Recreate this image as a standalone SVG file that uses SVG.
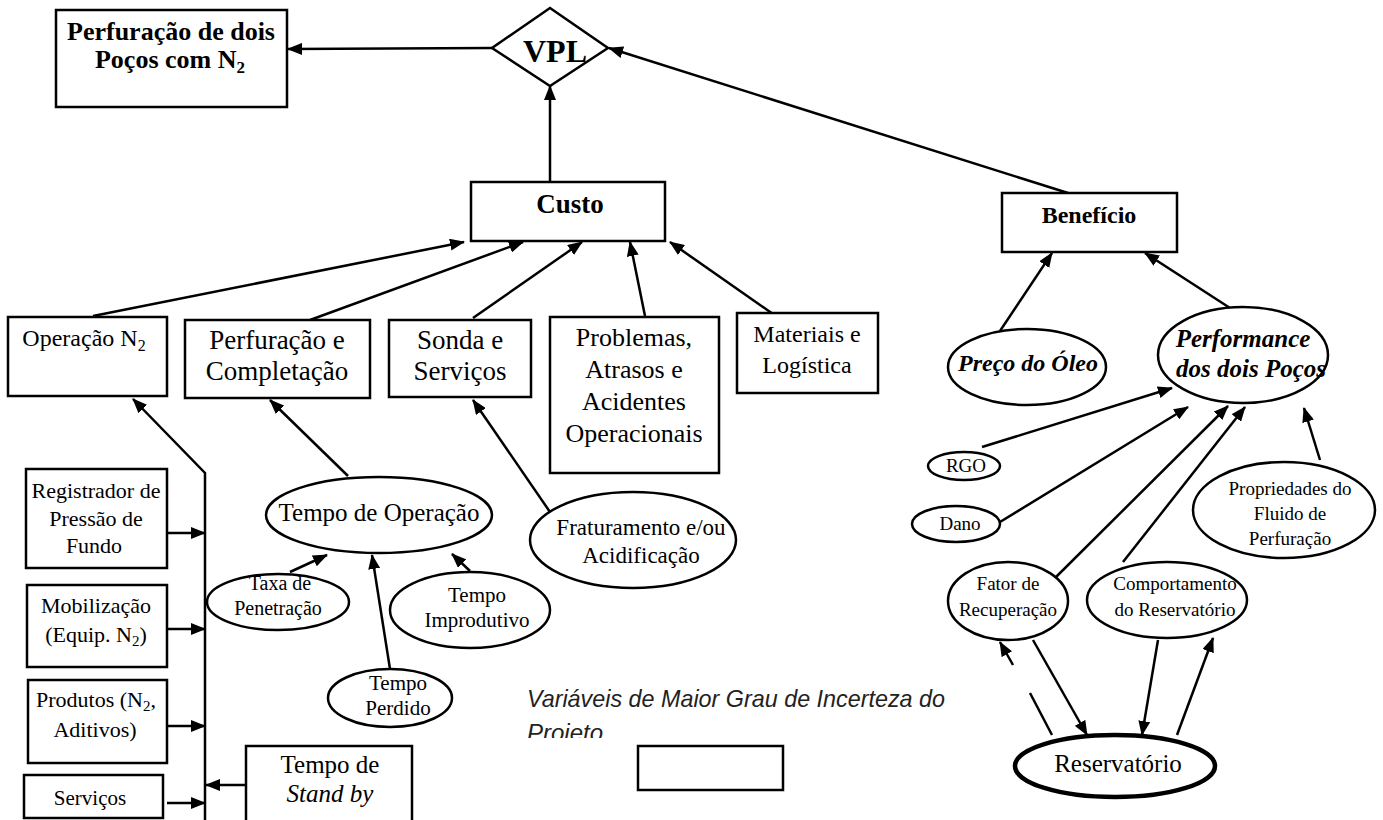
<svg xmlns="http://www.w3.org/2000/svg" width="1383" height="820" viewBox="0 0 1383 820">
<style>
.b{fill:#fff;stroke:#000;stroke-width:2.5}
.c{fill:none;stroke:#000;stroke-width:2.5}
.t{font-family:"Liberation Serif","Times New Roman",serif;fill:#000;text-anchor:middle}
.bd{font-weight:bold}
.it{font-style:italic}
</style>
<defs>
<marker id="a" markerUnits="userSpaceOnUse" markerWidth="15" markerHeight="12" refX="14" refY="6" orient="auto">
<path d="M0,0 L15,6 L0,12 z" fill="#000"/>
</marker>
<clipPath id="clipLeg"><rect x="500" y="680" width="500" height="58"/></clipPath>
</defs>
<rect width="1383" height="820" fill="#fff"/>

<g id="connectors">
<line class="c" x1="492" y1="48" x2="288" y2="49" marker-end="url(#a)"/>
<line class="c" x1="550" y1="182" x2="550" y2="86" marker-end="url(#a)"/>
<line class="c" x1="1068" y1="193" x2="609" y2="48" marker-end="url(#a)"/>
<line class="c" x1="93" y1="316" x2="464" y2="242" marker-end="url(#a)"/>
<line class="c" x1="310" y1="320" x2="523" y2="242" marker-end="url(#a)"/>
<line class="c" x1="473" y1="318" x2="582" y2="242" marker-end="url(#a)"/>
<line class="c" x1="645" y1="316" x2="630" y2="242" marker-end="url(#a)"/>
<line class="c" x1="773" y1="314" x2="670" y2="242" marker-end="url(#a)"/>
<line class="c" x1="1000" y1="331" x2="1052" y2="253" marker-end="url(#a)"/>
<line class="c" x1="1230" y1="308" x2="1145" y2="253" marker-end="url(#a)"/>
<line class="c" x1="982" y1="447" x2="1172" y2="388" marker-end="url(#a)"/>
<line class="c" x1="1000" y1="522" x2="1188" y2="407" marker-end="url(#a)"/>
<line class="c" x1="1055" y1="578" x2="1228" y2="406" marker-end="url(#a)"/>
<line class="c" x1="1123" y1="562" x2="1245" y2="407" marker-end="url(#a)"/>
<line class="c" x1="1320" y1="460" x2="1304" y2="408" marker-end="url(#a)"/>
<line class="c" x1="1033" y1="640" x2="1087" y2="735" marker-end="url(#a)"/>
<line class="c" x1="1052" y1="735" x2="1030" y2="693"/>
<line class="c" x1="1013" y1="665" x2="1000" y2="642" marker-end="url(#a)"/>
<line class="c" x1="1158" y1="640" x2="1142" y2="735" marker-end="url(#a)"/>
<line class="c" x1="1177" y1="735" x2="1213" y2="638" marker-end="url(#a)"/>
<line class="c" x1="348" y1="476" x2="270" y2="400" marker-end="url(#a)"/>
<line class="c" x1="290" y1="572" x2="327" y2="555" marker-end="url(#a)"/>
<line class="c" x1="390" y1="669" x2="372" y2="555" marker-end="url(#a)"/>
<line class="c" x1="470" y1="571" x2="452" y2="554" marker-end="url(#a)"/>
<line class="c" x1="550" y1="512" x2="473" y2="400" marker-end="url(#a)"/>
<polyline class="c" points="205,820 205,473 133,399" marker-end="url(#a)"/>
<line class="c" x1="167" y1="533" x2="205" y2="533" marker-end="url(#a)"/>
<line class="c" x1="167" y1="629" x2="205" y2="629" marker-end="url(#a)"/>
<line class="c" x1="167" y1="726" x2="205" y2="726" marker-end="url(#a)"/>
<line class="c" x1="167" y1="803" x2="205" y2="803" marker-end="url(#a)"/>
<line class="c" x1="246" y1="785" x2="206" y2="785" marker-end="url(#a)"/>
</g>

<g id="perfuracao-dois-pocos">
<rect class="b" x="56" y="10" width="231" height="97"/>
<text class="t bd" x="171" y="40" font-size="26">Perfuração de dois</text>
<text class="t bd" x="170" y="68" font-size="26">Poços com N<tspan font-size="17" dy="5">2</tspan></text>
</g>

<g id="vpl">
<polygon class="b" points="550,8 608,48 550,86 492,48"/>
<text class="t bd" x="555" y="62" font-size="32">VPL</text>
</g>

<g id="custo">
<rect class="b" x="471" y="182" width="194" height="59"/>
<text class="t bd" x="570" y="213" font-size="27">Custo</text>
</g>

<g id="beneficio">
<rect class="b" x="1002" y="193" width="175" height="59"/>
<text class="t bd" x="1089" y="223" font-size="24">Benefício</text>
</g>

<g id="operacao-n2">
<rect class="b" x="8" y="317" width="159" height="79"/>
<text class="t" x="84" y="346" font-size="24">Operação N<tspan font-size="16" dy="5">2</tspan></text>
</g>

<g id="perfuracao-completacao">
<rect class="b" x="185" y="320" width="185" height="78"/>
<text class="t" x="277" y="349" font-size="27">Perfuração e</text>
<text class="t" x="277" y="380" font-size="27">Completação</text>
</g>

<g id="sonda-servicos">
<rect class="b" x="389" y="320" width="142" height="77"/>
<text class="t" x="460" y="349" font-size="27">Sonda e</text>
<text class="t" x="460" y="380" font-size="27">Serviços</text>
</g>

<g id="problemas">
<rect class="b" x="550" y="317" width="169" height="156"/>
<text class="t" x="634" y="346" font-size="26">Problemas,</text>
<text class="t" x="634" y="378" font-size="26">Atrasos e</text>
<text class="t" x="634" y="410" font-size="26">Acidentes</text>
<text class="t" x="634" y="442" font-size="26">Operacionais</text>
</g>

<g id="materiais">
<rect class="b" x="737" y="313" width="141" height="80"/>
<text class="t" x="807" y="342" font-size="24">Materiais e</text>
<text class="t" x="807" y="373" font-size="24">Logística</text>
</g>

<g id="preco-oleo">
<ellipse class="b" cx="1027" cy="367" rx="79" ry="38"/>
<text class="t bd it" x="1028" y="371" font-size="24">Preço do Óleo</text>
</g>

<g id="performance">
<ellipse class="b" cx="1243" cy="355" rx="85" ry="48"/>
<text class="t bd it" x="1243" y="347" font-size="25">Performance</text>
<text class="t bd it" x="1251" y="377" font-size="25">dos dois Poços</text>
</g>

<g id="rgo">
<ellipse class="b" cx="964" cy="466" rx="36" ry="14"/>
<text class="t" x="966" y="472" font-size="19">RGO</text>
</g>

<g id="dano">
<ellipse class="b" cx="956" cy="524" rx="44" ry="18"/>
<text class="t" x="960" y="530" font-size="19">Dano</text>
</g>

<g id="propriedades">
<ellipse class="b" cx="1284" cy="510" rx="91" ry="48"/>
<text class="t" x="1290" y="495" font-size="19">Propriedades do</text>
<text class="t" x="1290" y="520" font-size="19">Fluido de</text>
<text class="t" x="1290" y="545" font-size="19">Perfuração</text>
</g>

<g id="fator-recuperacao">
<ellipse class="b" cx="1008" cy="601" rx="60" ry="39"/>
<text class="t" x="1008" y="590" font-size="19">Fator de</text>
<text class="t" x="1008" y="616" font-size="19">Recuperação</text>
</g>

<g id="comportamento">
<ellipse class="b" cx="1167" cy="600" rx="80" ry="38"/>
<text class="t" x="1175" y="590" font-size="19">Comportamento</text>
<text class="t" x="1175" y="616" font-size="19">do Reservatório</text>
</g>

<g id="reservatorio">
<ellipse cx="1115" cy="766" rx="100" ry="31" fill="#fff" stroke="#000" stroke-width="4.5"/>
<text class="t" x="1118" y="772" font-size="25">Reservatório</text>
</g>

<g id="tempo-operacao">
<ellipse class="b" cx="379" cy="515" rx="113" ry="38"/>
<text class="t" x="379" y="521" font-size="25">Tempo de Operação</text>
</g>

<g id="taxa-penetracao">
<ellipse class="b" cx="278" cy="602" rx="71" ry="28"/>
<text class="t" x="280" y="590" font-size="20">Taxa de</text>
<text class="t" x="278" y="615" font-size="20">Penetração</text>
</g>

<g id="tempo-perdido">
<ellipse class="b" cx="390" cy="698" rx="62" ry="29"/>
<text class="t" x="398" y="690" font-size="21">Tempo</text>
<text class="t" x="398" y="715" font-size="21">Perdido</text>
</g>

<g id="tempo-improdutivo">
<ellipse class="b" cx="470" cy="610" rx="80" ry="38"/>
<text class="t" x="477" y="602" font-size="21">Tempo</text>
<text class="t" x="477" y="627" font-size="21">Improdutivo</text>
</g>

<g id="fraturamento">
<ellipse class="b" cx="633" cy="540" rx="103" ry="48"/>
<text class="t" x="641" y="535" font-size="23">Fraturamento e/ou</text>
<text class="t" x="641" y="563" font-size="23">Acidificação</text>
</g>

<g id="registrador">
<rect class="b" x="26" y="469" width="141" height="99"/>
<text class="t" x="96" y="498" font-size="22">Registrador de</text>
<text class="t" x="96" y="526" font-size="22">Pressão de</text>
<text class="t" x="94" y="553" font-size="22">Fundo</text>
</g>

<g id="mobilizacao">
<rect class="b" x="27" y="585" width="140" height="82"/>
<text class="t" x="96" y="613" font-size="22">Mobilização</text>
<text class="t" x="96" y="642" font-size="22">(Equip. N<tspan font-size="15" dy="4">2</tspan><tspan dy="-4">)</tspan></text>
</g>

<g id="produtos">
<rect class="b" x="28" y="680" width="139" height="83"/>
<text class="t" x="96" y="707" font-size="22">Produtos (N<tspan font-size="15" dy="4">2</tspan><tspan dy="-4">,</tspan></text>
<text class="t" x="95" y="737" font-size="22">Aditivos)</text>
</g>

<g id="servicos">
<rect class="b" x="24" y="775" width="139" height="43"/>
<text class="t" x="90" y="805" font-size="21">Serviços</text>
</g>

<g id="tempo-stand-by">
<rect class="b" x="246" y="746" width="166" height="80"/>
<text class="t" x="330" y="773" font-size="25">Tempo de</text>
<text class="t it" x="330" y="802" font-size="25">Stand by</text>
</g>

<g id="legenda">
<g clip-path="url(#clipLeg)">
<text x="527" y="707" font-family="'Liberation Sans',Arial,sans-serif" font-style="italic" font-size="24" fill="#222" textLength="418" lengthAdjust="spacingAndGlyphs">Variáveis de Maior Grau de Incerteza do</text>
<text x="527" y="741" font-family="'Liberation Sans',Arial,sans-serif" font-style="italic" font-size="24" fill="#222">Projeto</text>
</g>
<rect class="b" x="638" y="746" width="145" height="44" stroke-width="2"/>
</g>
</svg>
